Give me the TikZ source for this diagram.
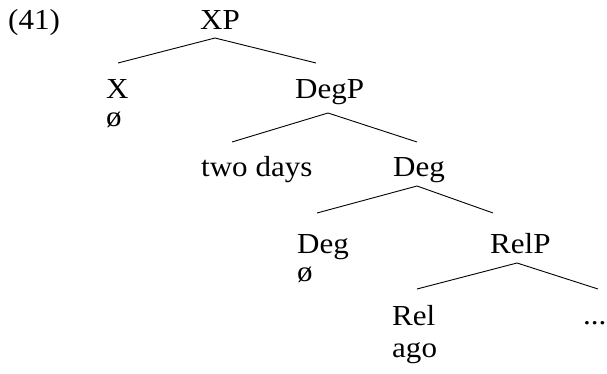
\documentclass[tikz,border=0pt]{standalone}
\usepackage{fontspec}
\setmainfont{Liberation Serif}
\usetikzlibrary{calc}
\tikzset{lbl/.style={anchor=base west, inner sep=0pt, font=\fontsize{29}{34}\selectfont, xscale=1.07}}

\begin{document}
\begin{tikzpicture}[x=1pt,y=-1pt]
		\useasboundingbox (0,0) rectangle (607,374);
		% labels
		\node[lbl] (num) at (8,30) {(41)};
		\node[lbl] (XP) at (200,30) {XP};
		\node[lbl] (X) at (106,99) {X};
		\node[lbl] (Xnull) at (106,127) {ø};
		\node[lbl] (DegP) at (295,99) {DegP};
		\node[lbl] (days) at (201,177) {two days};
		\node[lbl] (Degbar) at (393,177) {Deg};
		\node[lbl] (Deg) at (297,253) {Deg};
		\node[lbl] (Degnull) at (297,281) {ø};
		\node[lbl] (RelP) at (490,253) {RelP};
		\node[lbl] (Rel) at (392,325) {Rel};
		\node[lbl] (ago) at (392,357) {ago};
		\node[lbl] (dots) at (583,324) {...};
		% branch points
		\coordinate (xp-top) at (215,38);
		\coordinate (x-end) at (118,63);
		\coordinate (degp-end) at (316,63);
		\coordinate (degp-top) at (328,113);
		\coordinate (days-end) at (232,142);
		\coordinate (degbar-end) at (417,142);
		\coordinate (degbar-top) at (417,186);
		\coordinate (deg-end) at (317,213);
		\coordinate (relp-end) at (493,213);
		\coordinate (relp-top) at (517,263);
		\coordinate (rel-end) at (417,289);
		\coordinate (dots-end) at (598,289);
		\draw[black, line width=0.9pt] (x-end) -- (xp-top) -- (degp-end);
		\draw[black, line width=0.9pt] (days-end) -- (degp-top) -- (degbar-end);
		\draw[black, line width=0.9pt] (deg-end) -- (degbar-top) -- (relp-end);
		\draw[black, line width=0.9pt] (rel-end) -- (relp-top) -- (dots-end);
	\end{tikzpicture}
\end{document}
